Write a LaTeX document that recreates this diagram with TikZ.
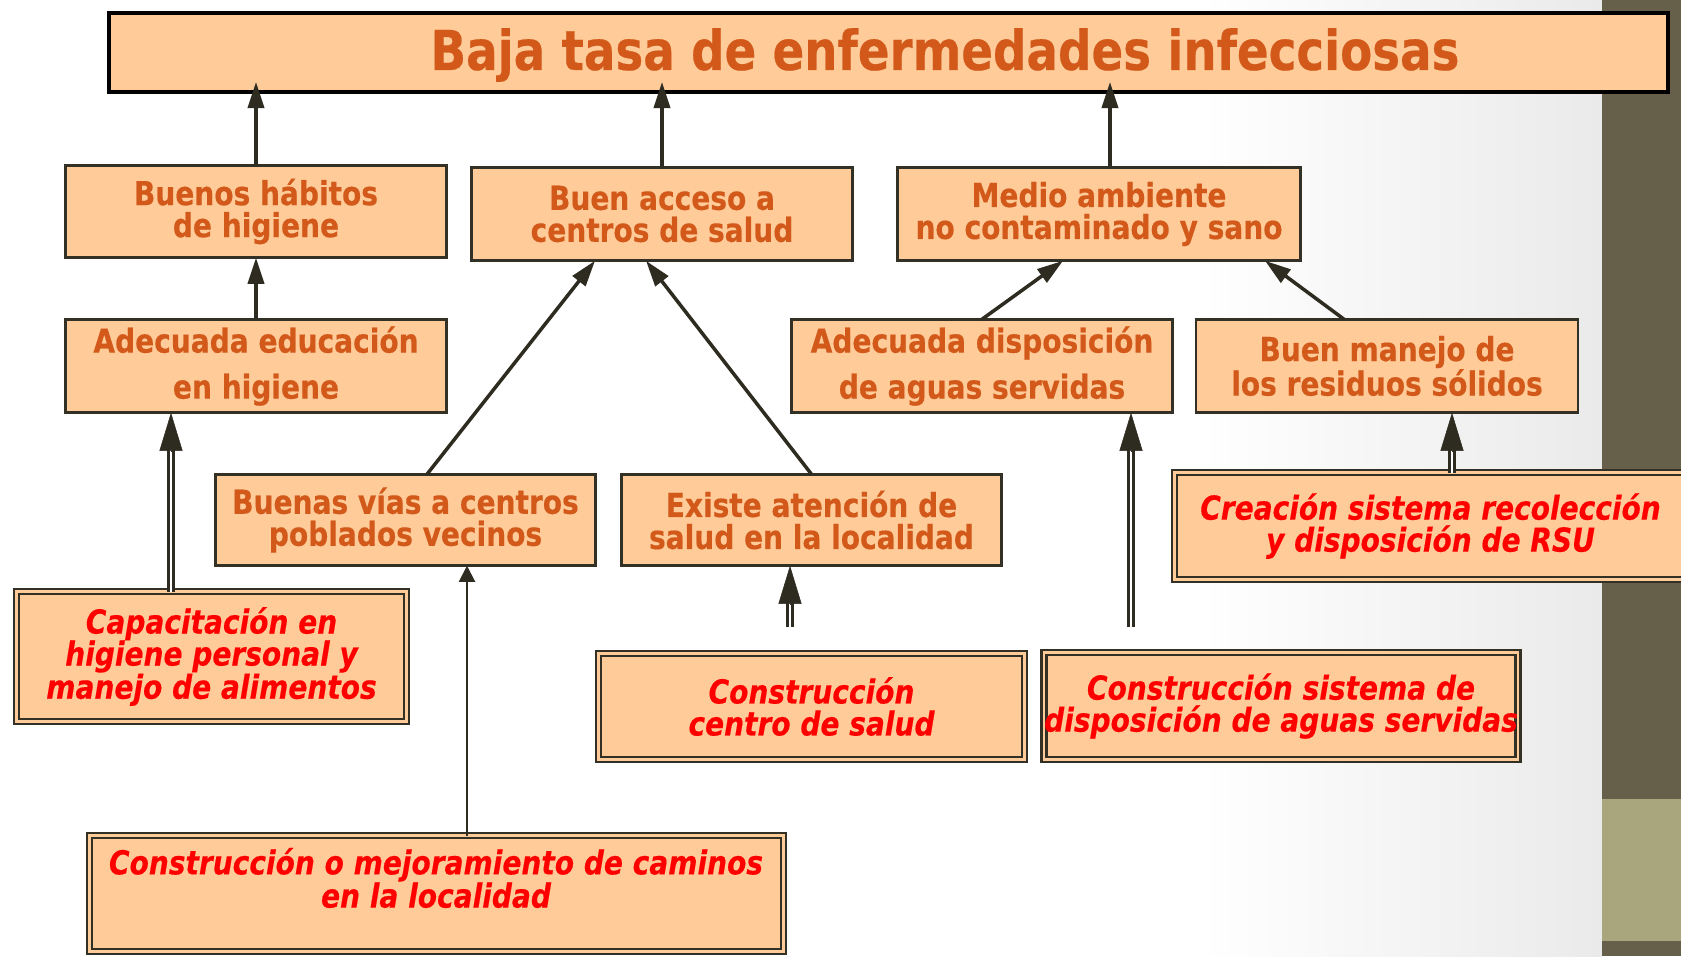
\documentclass[tikz,border=0pt]{standalone}
\usepackage{fontspec}
\setmainfont{DejaVu Sans}[FakeStretch=0.85, BoldFeatures={FakeBold=0.4}, BoldItalicFeatures={FakeBold=0.4}]
\usetikzlibrary{arrows.meta,calc}
\definecolor{peach}{HTML}{FFCC99}
\definecolor{orangeT}{HTML}{D2591A}
\definecolor{redT}{HTML}{FF0000}
\definecolor{edgec}{HTML}{333026}
\definecolor{arrowc}{HTML}{2E2B20}
\definecolor{olive}{HTML}{665F49}
\definecolor{khaki}{HTML}{A9A57D}
\definecolor{bggray}{HTML}{EAEAEA}
\begin{document}
\begin{tikzpicture}[x=1pt,y=-1pt,
  box/.style={draw=edgec, line width=2.6pt, fill=peach, inner sep=0pt, outer sep=0pt,
    align=center, text=orangeT, font=\bfseries\fontsize{33}{32}\selectfont},
  widebox/.style={box, font=\bfseries\fontsize{33}{46}\selectfont},
  dbox/.style={draw=edgec, line width=2.6pt, double=peach, double distance=2.4pt,
    fill=peach, inner sep=0pt, outer sep=0pt, align=center, text=redT,
    font=\bfseries\itshape\fontsize{33}{32}\selectfont},
  redtext/.style={inner sep=0pt, align=center, text=redT,
    font=\bfseries\itshape\fontsize{33}{32}\selectfont},
  arr/.style={draw=arrowc, line width=3.5pt, -{Triangle[length=26pt,width=16pt]}},
  thinarr/.style={draw=arrowc, line width=2pt, -{Triangle[length=16pt,width=16pt]}},
  dshaft/.style={draw=arrowc, line width=2.4pt, double=white, double distance=2.3pt},
  bigtip/.style={draw=arrowc, line width=0.5pt, -{Triangle[length=38pt,width=23pt]}},
]
\useasboundingbox (0,0) rectangle (1681,956);
% background
\fill[white] (0,0) rectangle (1602,956);
\shade[left color=white, right color=bggray] (1200,0) rectangle (1602,956);
\fill[olive] (1602,0) rectangle (1681,956);
\fill[khaki] (1602,799) rectangle (1681,941);

% title
\node[draw=black, line width=4.5pt, fill=peach, minimum width=1559pt, minimum height=79pt,
  inner sep=0pt, outer sep=0pt] (title) at (888.5,52.5) {};
\node[inner sep=0pt, text=orangeT, font=\bfseries\fontsize{55}{60}\selectfont]
  (titletext) at (945,55) {Baja tasa de enfermedades infecciosas};

% row 2
\node[box, minimum width=381.5pt, minimum height=92.5pt] (B1) at (256,211.5) {Buenos hábitos\\de higiene};
\node[box, minimum width=381.5pt, minimum height=93.5pt] (B2) at (662,214) {Buen acceso a\\centros de salud};
\node[box, minimum width=403.5pt, minimum height=93.5pt] (B3) at (1099,214) {Medio ambiente\\no contaminado y sano};

% row 3
\node[widebox, minimum width=381.5pt, minimum height=93.5pt] (C1) at (256,366) {Adecuada educación\\en higiene};
\node[widebox, minimum width=381.5pt, minimum height=93.5pt] (C2) at (982,366) {Adecuada disposición\\de aguas servidas};
\node[box, minimum width=382pt, minimum height=93.5pt] (C3) at (1387,366) {Buen manejo de\\los residuos sólidos};

% row 4
\node[box, minimum width=380.5pt, minimum height=91.5pt] (D1) at (405.5,520) {Buenas vías a centros\\poblados vecinos};
\node[box, minimum width=380.5pt, minimum height=91.5pt] (D2) at (811.5,520) {Existe atención de\\salud en la localidad};
\node[dbox, minimum width=512pt, minimum height=107pt] (RSU) at (1430.5,526) {Creación sistema recolección\\y disposición de RSU};

% projects
\node[dbox, minimum width=390pt, minimum height=130pt] (cap) at (211.5,656.5) {Capacitación en\\higiene personal y\\manejo de alimentos};
\node[dbox, minimum width=426pt, minimum height=106pt] (centro) at (811.5,706.5) {Construcción\\centro de salud};
\node[dbox, minimum width=469pt, minimum height=107pt] (aguas) at (1281,706) {Construcción sistema de\\disposición de aguas servidas};
\node[dbox, minimum width=694pt, minimum height=116pt] (caminos) at (436.5,893.5) {};
\node[redtext] (caminostxt) at (436,878) {Construcción o mejoramiento de caminos\\en la localidad};

% connectors to title
\coordinate (xa) at (1110,0);
\draw[arr, shorten >=-10pt] (B1.north) -- (B1.north |- title.south);
\draw[arr, shorten >=-10pt] (B2.north) -- (B2.north |- title.south);
\draw[arr, shorten >=-10pt] (B3.north -| xa) -- (title.south -| xa);

% single arrows
\draw[arr] (C1.north) -- (B1.south);
\draw[arr] ([xshift=21.5pt]D1.north) -- ([xshift=-67pt]B2.south);
\draw[arr] (D2.north) -- ([xshift=-16pt]B2.south);
\draw[arr] (C2.north) -- ([xshift=-36pt]B3.south);
\draw[arr] ([xshift=-43pt]C3.north) -- ([xshift=166pt]B3.south);

% thin arrow
\coordinate (xc) at (467,0);
\draw[thinarr] (caminos.north -| xc) -- (D1.south -| xc);

% double arrows
\coordinate (x1) at (171,0);
\draw[dshaft] (cap.north -| x1) -- ($(C1.south -| x1)+(0,36)$);
\draw[bigtip] ($(C1.south -| x1)+(0,38)$) -- (C1.south -| x1);

\coordinate (fe1) at (790,627);
\draw[dshaft] (fe1) -- ($(D2.south -| fe1)+(0,37)$);
\draw[bigtip] ($(D2.south -| fe1)+(0,39)$) -- (D2.south -| fe1);

\coordinate (fe2) at (1131,627);
\draw[dshaft] (fe2) -- ($(C2.south -| fe2)+(0,36)$);
\draw[bigtip] ($(C2.south -| fe2)+(0,38)$) -- (C2.south -| fe2);

\coordinate (x4) at (1452,0);
\draw[dshaft] (RSU.north -| x4) -- ($(C3.south -| x4)+(0,36)$);
\draw[bigtip] ($(C3.south -| x4)+(0,38)$) -- (C3.south -| x4);
\end{tikzpicture}
\end{document}
